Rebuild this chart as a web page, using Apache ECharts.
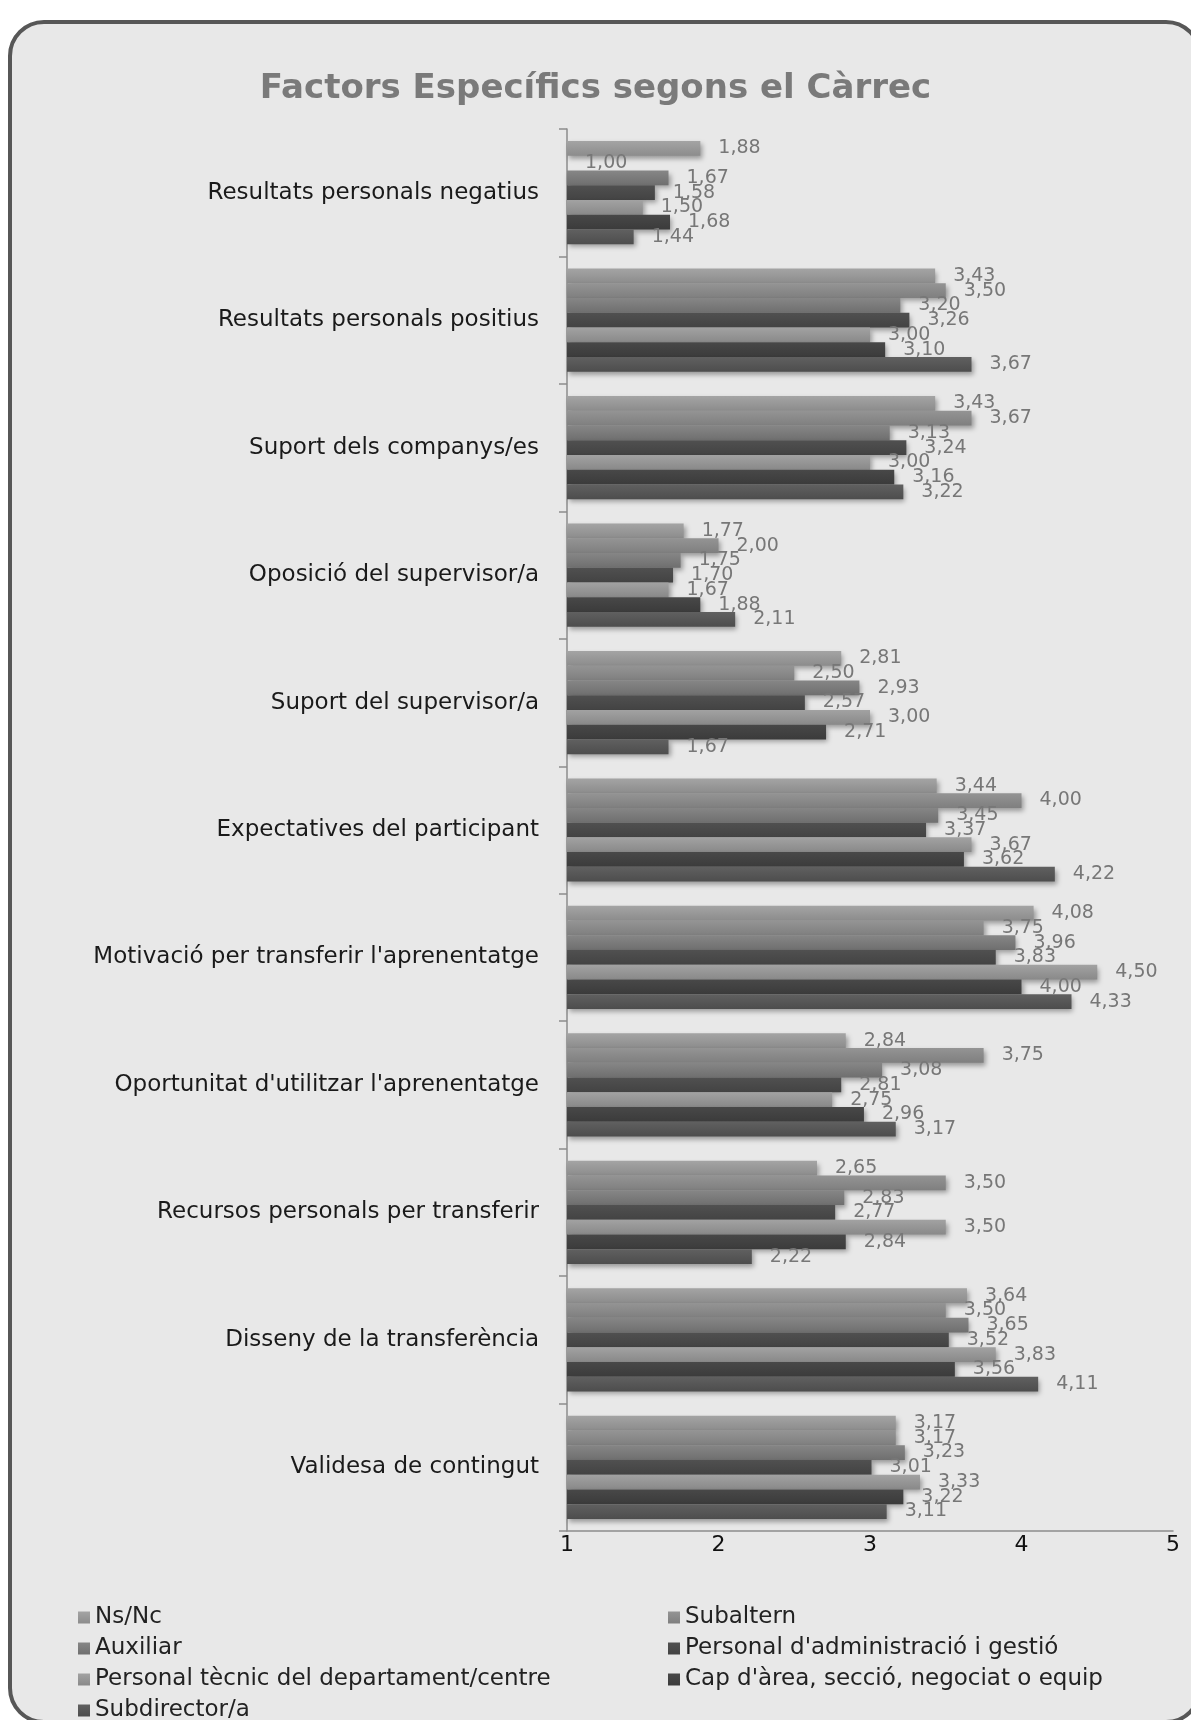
<!DOCTYPE html>
<html>
<head>
<meta charset="utf-8">
<script src="https://cdn.jsdelivr.net/npm/echarts@6/dist/echarts.min.js"></script>
<style>
  html, body { margin: 0; padding: 0; background: #ffffff; }
  #chart { width: 1191px; height: 1720px; }
</style>
</head>
<body>
<div id="chart"></div>
<script>
// Factors, listed top to bottom
const categories = [
  'Resultats personals negatius',
  'Resultats personals positius',
  'Suport dels companys/es',
  'Oposició del supervisor/a',
  'Suport del supervisor/a',
  'Expectatives del participant',
  "Motivació per transferir l'aprenentatge",
  "Oportunitat d'utilitzar l'aprenentatge",
  'Recursos personals per transferir',
  'Disseny de la transferència',
  'Validesa de contingut'
];

const seriesNames = [
  'Ns/Nc',
  'Subaltern',
  'Auxiliar',
  "Personal d'administració i gestió",
  'Personal tècnic del departament/centre',
  "Cap d'àrea, secció, negociat o equip",
  'Subdirector/a'
];

// Mean scores per job position, one value per factor
const nsNc        = [1.88, 3.43, 3.43, 1.77, 2.81, 3.44, 4.08, 2.84, 2.65, 3.64, 3.17];
const subaltern   = [1.00, 3.50, 3.67, 2.00, 2.50, 4.00, 3.75, 3.75, 3.50, 3.50, 3.17];
const auxiliar    = [1.67, 3.20, 3.13, 1.75, 2.93, 3.45, 3.96, 3.08, 2.83, 3.65, 3.23];
const adminGestio = [1.58, 3.26, 3.24, 1.70, 2.57, 3.37, 3.83, 2.81, 2.77, 3.52, 3.01];
const tecnic      = [1.50, 3.00, 3.00, 1.67, 3.00, 3.67, 4.50, 2.75, 3.50, 3.83, 3.33];
const capArea     = [1.68, 3.10, 3.16, 1.88, 2.71, 3.62, 4.00, 2.96, 2.84, 3.56, 3.22];
const subdirector = [1.44, 3.67, 3.22, 2.11, 1.67, 4.22, 4.33, 3.17, 2.22, 4.11, 3.11];

const seriesValues = [nsNc, subaltern, auxiliar, adminGestio, tecnic, capArea, subdirector];

const xTicks = [1, 2, 3, 4, 5];

// Grey shading per position (top and bottom of each bar)
const shades = [
  ['#a4a4a4', '#8c8c8c'],
  ['#949494', '#7f7f7f'],
  ['#868686', '#6f6f6f'],
  ['#505050', '#434343'],
  ['#a2a2a2', '#898989'],
  ['#484848', '#3b3b3b'],
  ['#606060', '#4d4d4d']
];

const fmt = v => Number(v).toFixed(2).replace('.', ',');

const chart = echarts.init(document.getElementById('chart'), null, { renderer: 'canvas' });

const series = seriesNames.map((name, i) => ({
  name: name,
  type: 'bar',
  data: seriesValues[i],
  barGap: '0%',
  barCategoryGap: '19%',
  clip: true,
  itemStyle: {
    color: new echarts.graphic.LinearGradient(0, 0, 0, 1, [
      { offset: 0, color: shades[i][0] },
      { offset: 1, color: shades[i][1] }
    ]),
    shadowColor: 'rgba(0,0,0,0.35)',
    shadowBlur: 5,
    shadowOffsetX: 2,
    shadowOffsetY: 3
  },
  label: {
    show: true,
    position: 'right',
    distance: 18,
    color: '#777777',
    fontFamily: 'DejaVu Sans',
    fontSize: 19,
    formatter: p => fmt(p.value)
  },
  emphasis: { disabled: true },
  animation: false
}));

const legendText = { color: '#222', fontFamily: 'DejaVu Sans', fontSize: 23 };

// One vertical legend column; the explicit height keeps the last row
// in the same column even though it runs to the bottom edge
const legendColumn = (left, names) => ({
  orient: 'vertical',
  left: left,
  top: 1606,
  height: 160,
  padding: 0,
  itemWidth: 12,
  itemHeight: 12,
  itemGap: 8,
  icon: 'rect',
  textStyle: legendText,
  data: names
});

chart.setOption({
  backgroundColor: '#ffffff',
  animation: false,
  graphic: [{
    type: 'rect',
    z: -10,
    silent: true,
    shape: { x: 10, y: 22, width: 1190, height: 1700, r: 34 },
    style: { fill: '#e8e8e8', stroke: '#575757', lineWidth: 4 }
  }],
  title: {
    text: 'Factors Específics segons el Càrrec',
    left: 'center',
    top: 67,
    textStyle: { color: '#7a7a7a', fontFamily: 'DejaVu Sans', fontWeight: 'bold', fontSize: 34 }
  },
  legend: [
    legendColumn(78, [seriesNames[0], seriesNames[2], seriesNames[4], seriesNames[6]]),
    legendColumn(668, [seriesNames[1], seriesNames[3], seriesNames[5]])
  ],
  grid: { left: 567, right: 18, top: 129, bottom: 189, containLabel: false },
  xAxis: {
    type: 'value',
    min: xTicks[0],
    max: xTicks[xTicks.length - 1],
    interval: 1,
    splitLine: { show: false },
    axisLine: { show: true, lineStyle: { color: '#8c8c8c', width: 1.5 } },
    axisTick: { show: false },
    axisLabel: { color: '#111', fontFamily: 'DejaVu Sans', fontSize: 22, margin: 3 }
  },
  yAxis: {
    type: 'category',
    inverse: true,
    data: categories,
    axisLine: { show: true, lineStyle: { color: '#8c8c8c', width: 1.5 } },
    axisTick: { show: true, length: 8, lineStyle: { color: '#8c8c8c', width: 1.5 } },
    axisLabel: { color: '#1a1a1a', fontFamily: 'DejaVu Sans', fontSize: 23, margin: 28 }
  },
  series: series
});
</script>
</body>
</html>
